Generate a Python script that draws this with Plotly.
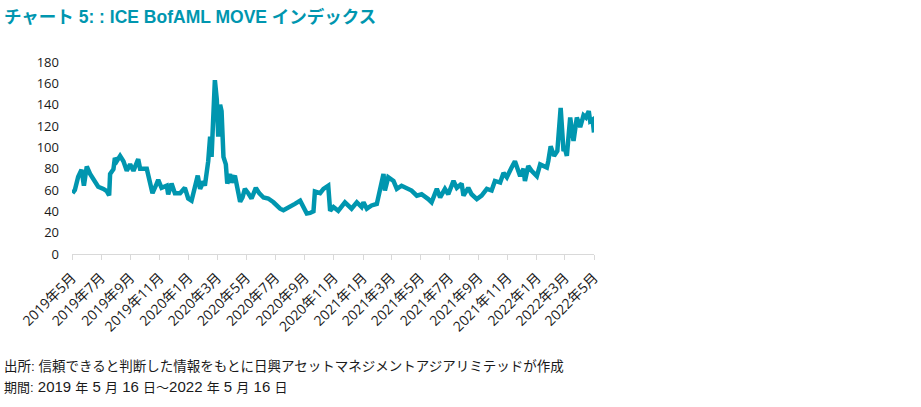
import re
import plotly.graph_objects as go

dates = [
    "2019-05-17", "2019-05-22", "2019-05-29", "2019-06-05", "2019-06-10", "2019-06-16", "2019-06-23",
    "2019-07-03", "2019-07-10", "2019-07-21", "2019-07-28", "2019-08-02", "2019-08-04", "2019-08-11",
    "2019-08-14", "2019-08-18", "2019-08-25", "2019-09-01", "2019-09-08", "2019-09-15", "2019-09-22",
    "2019-10-02", "2019-10-06", "2019-10-20", "2019-10-27", "2019-11-01", "2019-11-08", "2019-11-13",
    "2019-11-20", "2019-12-01", "2019-12-04", "2019-12-11", "2019-12-18", "2019-12-29",
    "2020-01-08", "2020-01-15", "2020-01-22", "2020-01-29", "2020-02-04", "2020-02-09", "2020-02-16",
    "2020-02-19", "2020-02-26", "2020-03-01", "2020-03-04", "2020-03-11", "2020-03-15", "2020-03-18",
    "2020-03-22", "2020-03-25", "2020-03-29", "2020-04-03", "2020-04-06", "2020-04-12", "2020-04-15",
    "2020-04-22", "2020-04-28", "2020-05-03", "2020-05-08", "2020-05-13", "2020-05-20", "2020-05-27",
    "2020-06-05", "2020-06-12", "2020-06-21", "2020-07-01", "2020-07-12", "2020-07-26", "2020-08-02",
    "2020-08-16", "2020-08-26", "2020-09-06", "2020-09-13", "2020-09-20", "2020-09-27", "2020-10-04",
    "2020-10-07", "2020-10-18", "2020-10-25", "2020-11-04", "2020-11-08", "2020-11-15", "2020-11-25",
    "2020-12-02", "2020-12-09", "2020-12-23",
    "2021-01-03", "2021-01-13", "2021-01-17", "2021-01-24", "2021-02-03", "2021-02-14", "2021-02-21",
    "2021-02-28", "2021-03-03", "2021-03-10", "2021-03-21", "2021-03-28", "2021-04-07", "2021-04-18",
    "2021-04-28", "2021-05-09", "2021-05-19", "2021-06-02", "2021-06-09", "2021-06-20", "2021-06-27",
    "2021-07-07", "2021-07-14", "2021-07-25", "2021-08-01", "2021-08-11", "2021-08-15", "2021-08-25",
    "2021-09-01", "2021-09-12", "2021-09-22", "2021-10-03", "2021-10-13", "2021-10-20", "2021-10-31",
    "2021-11-07", "2021-11-14", "2021-11-24", "2021-12-01", "2021-12-12", "2021-12-19", "2021-12-22",
    "2021-12-29",
    "2022-01-05", "2022-01-16", "2022-01-23", "2022-02-06", "2022-02-09", "2022-02-14", "2022-02-21",
    "2022-02-28", "2022-03-07", "2022-03-13", "2022-03-16", "2022-03-20", "2022-03-27", "2022-04-03",
    "2022-04-10", "2022-04-17", "2022-04-24", "2022-04-29", "2022-05-05", "2022-05-08", "2022-05-13",
    "2022-05-16",
]

move_index = [
    57, 60, 72.5, 79, 64, 82, 75,
    68, 63, 61, 59, 55, 75, 79.5,
    90, 87, 92, 87, 78, 84, 78,
    89, 80, 80, 64, 57, 64, 69.5,
    62, 64, 56, 66, 57, 57,
    62, 52, 50, 64, 73.5, 61, 68,
    64, 87, 110, 91, 163, 145, 110,
    140, 134, 91, 84, 66, 75, 67,
    73.5, 60, 49, 53, 61, 57, 52,
    62, 57, 53, 52, 48.5, 42.5, 41,
    44, 47, 50, 44.5, 38, 38.5, 40,
    58.5, 57, 61, 64, 40.5, 44, 40.5,
    44, 48.5, 42.5,
    48.5, 44, 48.5, 42.5, 45.5, 47, 59.5,
    75, 59.5, 72, 68.5, 61, 64, 61,
    59.5, 54.7, 56, 51.5, 48.5, 61, 53,
    61, 56, 68.5, 62, 66, 54.7, 62,
    56, 51.5, 54.7, 61, 59.5, 68.5, 67,
    76, 72, 81, 87, 73, 80, 68.5,
    82.5,
    78, 73, 84, 81, 87, 101, 92,
    96.5, 137, 96.5, 99, 92, 128, 106,
    128, 119, 130, 128, 134, 124.5, 126,
    114,
]

tick_dates = [
    "2019-05-16", "2019-07-16", "2019-09-16", "2019-11-16", "2020-01-16", "2020-03-16",
    "2020-05-16", "2020-07-16", "2020-09-16", "2020-11-16", "2021-01-16", "2021-03-16",
    "2021-05-16", "2021-07-16", "2021-09-16", "2021-11-16", "2022-01-16", "2022-03-16",
    "2022-05-16",
]
tick_labels = [
    "2019年5月", "2019年7月", "2019年9月", "2019年11月", "2020年1月", "2020年3月",
    "2020年5月", "2020年7月", "2020年9月", "2020年11月", "2021年1月", "2021年3月",
    "2021年5月", "2021年7月", "2021年9月", "2021年11月", "2022年1月", "2022年3月",
    "2022年5月",
]
y_ticks = [0, 20, 40, 60, 80, 100, 120, 140, 160, 180]

title_text = "チャート 5: : ICE BofAML MOVE インデックス"
note1 = "出所: 信頼できると判断した情報をもとに日興アセットマネジメントアジアリミテッドが作成"
note2 = "期間: 2019 年 5 月 16 日～2022 年 5 月 16 日"

teal = "#0096AF"
latin_cjk = "Liberation Sans, Noto Sans CJK JP"


def widen_latin(s, size):
    # Latin runs (digits, spaces) render a bit larger than the CJK glyphs in the source
    return re.sub(r"([0-9 ]+)", lambda m: '<span style="font-size:%spx">%s</span>' % (size, m.group(1)), s)


fig = go.Figure()
fig.add_trace(go.Scatter(
    x=dates, y=move_index, mode="lines",
    line=dict(color=teal, width=4.5),
    hoverinfo="x+y", showlegend=False,
))

fig.update_layout(
    width=921, height=407,
    margin=dict(l=72, r=327, t=62, b=153),
    paper_bgcolor="white", plot_bgcolor="white",
    font=dict(family="Noto Sans CJK JP", color="#1a1a1a"),
    xaxis=dict(
        type="date",
        range=["2019-05-16", "2022-05-16"],
        tickmode="array", tickvals=tick_dates, ticktext=tick_labels,
        tickangle=-45, tickfont=dict(size=14, color="#1a1a1a", family="Open Sans, Noto Sans CJK JP"),
        showgrid=False, showline=True, linecolor="#d9d9d9", linewidth=1,
        ticks="outside", ticklen=5, tickcolor="#d9d9d9",
        ticklabelstandoff=4,
        zeroline=False,
    ),
    yaxis=dict(
        range=[0, 180],
        tickmode="array", tickvals=y_ticks,
        tickfont=dict(size=13, color="#1a1a1a", family="Open Sans"),
        showgrid=False, showline=False, zeroline=False,
        ticks="", ticklabelstandoff=12,
    ),
    annotations=[
        dict(text="<b>" + title_text + "</b>", xref="paper", yref="paper",
             x=-70 / 522, y=1 + 45 / 192, xanchor="left", yanchor="middle",
             showarrow=False, font=dict(size=17.5, color=teal, family=latin_cjk)),
        dict(text=note1, xref="paper", yref="paper",
             x=-70 / 522, y=-112 / 192, xanchor="left", yanchor="middle",
             showarrow=False, font=dict(size=13.5, color="#1a1a1a", family=latin_cjk)),
        dict(text=widen_latin(note2, 15), xref="paper", yref="paper",
             x=-70 / 522, y=-132 / 192, xanchor="left", yanchor="middle",
             showarrow=False, font=dict(size=13, color="#1a1a1a", family=latin_cjk)),
    ],
)

fig.write_html("out.html", config={"displayModeBar": False},
               post_script="document.body.style.margin='0px';")
